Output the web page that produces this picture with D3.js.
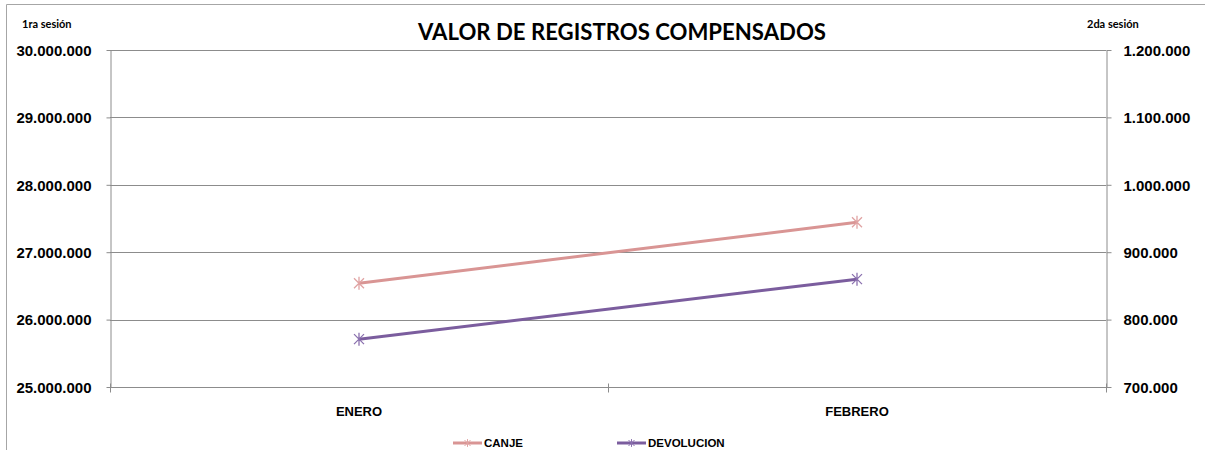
<!DOCTYPE html>
<html lang="es">
<head>
  <meta charset="UTF-8">
  <title>Valor de registros compensados</title>
  <style>
    body { margin: 0; background: #fff; }
    svg  { display: block; font-family: "Liberation Sans", Arial, sans-serif; }
    .grid line { stroke: #8c8c8c; stroke-width: 1px; }
    .axis path, .axis line { stroke: #8c8c8c; }
    .tick-lbl { font-size: 15px; font-weight: bold; fill: #000; }
    .cat-lbl  { font-size: 13px; font-weight: bold; fill: #000; }
    .leg-lbl  { font-size: 11.5px; font-weight: bold; fill: #000; }
    .sesion   { font-family: Lato, "Open Sans", sans-serif; font-size: 11px; font-weight: bold; }
    .title    { font-family: Lato, "Open Sans", sans-serif; font-size: 22px; font-weight: bold; }
  </style>
</head>
<body>
  <svg id="chart" width="1205" height="450"></svg>

  <script src="https://d3js.org/d3.v7.min.js"></script>
  <script>
    /* ---------- data ---------- */
    const meses      = ['ENERO', 'FEBRERO'];
    const canje      = [26539000, 27444000];   // eje izquierdo (1ra sesión)
    const devolucion = [771000, 860000];       // eje derecho (2da sesión)
    const leftTicks  = [25000000, 26000000, 27000000, 28000000, 29000000, 30000000];
    const rightTicks = [700000, 800000, 900000, 1000000, 1100000, 1200000];

    /* ---------- layout ---------- */
    const plot = { left: 110, right: 1106, top: 50, bottom: 387 };
    const svg = d3.select('#chart');

    const x = d3.scaleBand().domain(meses).range([plot.left, plot.right]).paddingInner(0).paddingOuter(0);
    const yL = d3.scaleLinear().domain([25000000, 30000000]).range([plot.bottom, plot.top]);
    const yR = d3.scaleLinear().domain([700000, 1200000]).range([plot.bottom, plot.top]);

    const fmt = v => d3.format(',')(v).replace(/,/g, '.');

    // outer frame
    svg.append('path')
       .attr('d', 'M6.5,450 V4.5 H1205')
       .attr('fill', 'none').attr('stroke', '#a6a6a6');

    // gridlines
    svg.append('g').attr('class', 'grid')
       .selectAll('line').data(leftTicks.slice(1)).enter().append('line')
       .attr('x1', plot.left).attr('x2', plot.right)
       .attr('y1', d => Math.round(yL(d)) + 0.5).attr('y2', d => Math.round(yL(d)) + 0.5);

    // left axis
    const axL = svg.append('g').attr('class', 'axis')
       .attr('transform', `translate(${plot.left + 0.5},0)`)
       .call(d3.axisLeft(yL).tickValues(leftTicks).tickSize(4).tickSizeOuter(0).tickFormat(fmt));
    axL.selectAll('text').attr('class', 'tick-lbl').attr('x', -19).attr('dy', '0.35em');

    // right axis
    const axR = svg.append('g').attr('class', 'axis')
       .attr('transform', `translate(${plot.right + 0.5},0)`)
       .call(d3.axisRight(yR).tickValues(rightTicks).tickSize(5).tickSizeOuter(0).tickFormat(fmt));
    axR.selectAll('text').attr('class', 'tick-lbl').attr('x', 17).attr('dy', '0.35em');

    // bottom axis
    const axB = svg.append('g').attr('class', 'axis')
       .attr('transform', `translate(0,${plot.bottom + 0.5})`);
    axB.append('line').attr('x1', plot.left).attr('x2', plot.right).attr('stroke', '#8c8c8c');
    const edges = meses.map(m => x(m)).concat([x(meses[meses.length - 1]) + x.bandwidth()]);
    axB.selectAll('line.tk').data(edges).enter().append('line')
       .attr('class', 'tk')
       .attr('x1', d => Math.round(d) + 0.5).attr('x2', d => Math.round(d) + 0.5)
       .attr('y1', -4).attr('y2', 5).attr('stroke', '#8c8c8c');
    axB.selectAll('text').data(meses).enter().append('text')
       .attr('class', 'cat-lbl')
       .attr('x', d => x(d) + x.bandwidth() / 2)
       .attr('y', 28)
       .attr('text-anchor', 'middle')
       .text(d => d);

    // series
    const star = s => `M${-s},${-s}L${s},${s}M${-s},${s}L${s},${-s}M0,${-s * 1.3}V${s * 1.3}`;
    const series = [
      { name: 'CANJE', values: canje, y: yL, color: '#d99594', mark: '#e0a3a3' },
      { name: 'DEVOLUCION', values: devolucion, y: yR, color: '#7b5d9e', mark: '#8a70ae' }
    ];
    const cx = m => x(m) + x.bandwidth() / 2;

    series.forEach(s => {
      const pts = meses.map((m, i) => [cx(m), s.y(s.values[i])]);
      svg.append('path')
         .datum(pts)
         .attr('fill', 'none')
         .attr('stroke', s.color)
         .attr('stroke-width', 3)
         .attr('d', d3.line());
      svg.selectAll(null).data(pts).enter().append('path')
         .attr('transform', d => `translate(${d[0]},${d[1]})`)
         .attr('d', star(5))
         .attr('fill', 'none')
         .attr('stroke', s.mark)
         .attr('stroke-width', 1.3);
    });

    // legend
    const legX = [453, 617];
    series.forEach((s, i) => {
      const g = svg.append('g').attr('transform', `translate(${legX[i]},443)`);
      g.append('line').attr('x1', 0).attr('x2', 29).attr('stroke', s.color).attr('stroke-width', 3);
      g.append('path').attr('transform', 'translate(14.5,0)').attr('d', star(3))
       .attr('fill', 'none').attr('stroke', s.mark).attr('stroke-width', 1);
      g.append('text').attr('class', 'leg-lbl').attr('x', 31).attr('dy', '0.36em').text(s.name);
    });

    // title and axis captions
    svg.append('text').attr('class', 'title')
       .attr('x', 622).attr('y', 40).attr('text-anchor', 'middle')
       .attr('textLength', 408).attr('lengthAdjust', 'spacingAndGlyphs')
       .text('VALOR DE  REGISTROS COMPENSADOS');
    svg.append('text').attr('class', 'sesion').attr('x', 22).attr('y', 28).text('1ra sesión');
    svg.append('text').attr('class', 'sesion').attr('x', 1087).attr('y', 28).text('2da sesión');
  </script>
</body>
</html>
